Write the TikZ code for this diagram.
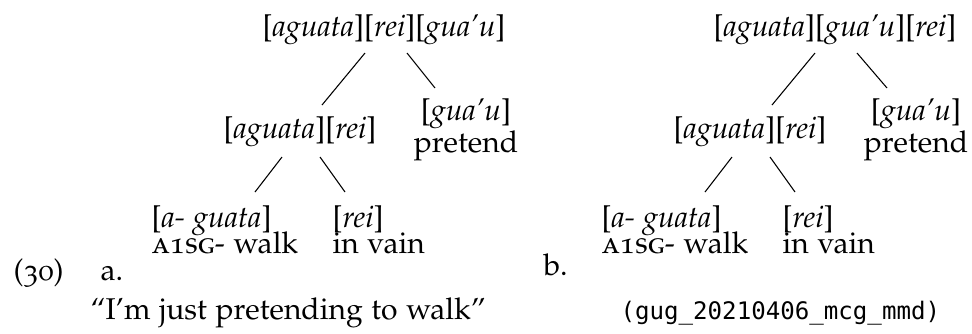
\documentclass[tikz,border=0pt]{standalone}
\usepackage[T1]{fontenc}
\usepackage[sc,osf]{mathpazo}
\usepackage{fontspec}
\usetikzlibrary{calc}
\newfontfamily\codefont{DejaVu Sans Mono}
\newcommand\palfont{\fontencoding{T1}\fontfamily{pplj}\fontsize{11.2}{13.6}\selectfont}
\newcommand\gword[1]{[\textit{#1}]}
\begin{document}
\begin{tikzpicture}[x=0.373pt, y=-0.373pt,
    every node/.style={font=\palfont, inner sep=0pt},
    lbl/.style={anchor=base west},
    word/.style={anchor=base},
    edge/.style={line width=0.4pt}]
    \useasboundingbox (0,0) rectangle (972,333);

    % Tree a
    \node[word] (topA) at (384,36) {\gword{aguata}\gword{rei}\gword{gua'u}};
    \node[word] (midA) at (300,138) {\gword{aguata}\gword{rei}};
    \node[word] (guaA) at (466,120) {\gword{gua'u}};
    \node[word] (guaAg) at (466,152) {pretend};
    \node[lbl] (walkA) at (151,227) {\gword{a- guata}};
    \node[lbl] (walkAg) at (151,253) {\textsc{a1sg}- walk};
    \node[lbl] (reiA) at (332,227) {\gword{rei}};
    \node[lbl] (reiAg) at (332,253) {in vain};

    \draw[edge] ($(topA.base)+(-19,17)$) -- ($(midA.base)+(22,-33)$);
    \draw[edge] ($(topA.base)+(23,17)$) -- ($(guaA.base)+(-31,-32)$);
    \draw[edge] ($(midA.base)+(-18,19)$) -- ($(walkA.base west)+(104,-35)$);
    \draw[edge] ($(midA.base)+(20,19)$) -- ($(reiA.base west)+(13,-35)$);

    % Tree b
    \node[word] (topB) at (835,36) {\gword{aguata}\gword{gua'u}\gword{rei}};
    \node[word] (midB) at (750,138) {\gword{aguata}\gword{rei}};
    \node[word] (guaB) at (916,120) {\gword{gua'u}};
    \node[word] (guaBg) at (916,152) {pretend};
    \node[lbl] (walkB) at (601,227) {\gword{a- guata}};
    \node[lbl] (walkBg) at (601,253) {\textsc{a1sg}- walk};
    \node[lbl] (reiB) at (782,227) {\gword{rei}};
    \node[lbl] (reiBg) at (782,253) {in vain};

    \draw[edge] ($(topB.base)+(-20,17)$) -- ($(midB.base)+(22,-33)$);
    \draw[edge] ($(topB.base)+(22,17)$) -- ($(guaB.base)+(-29,-32)$);
    \draw[edge] ($(midB.base)+(-18,19)$) -- ($(walkB.base west)+(104,-35)$);
    \draw[edge] ($(midB.base)+(20,19)$) -- ($(reiB.base west)+(13,-35)$);

    % Example number, letters, translation
    \node[lbl] (num) at (13,280) {(30)};
    \node[lbl] (la) at (100,280) {a.};
    \node[lbl] (lb) at (543,275) {b.};
    \node[lbl] (trans) at (90,319) {``I'm just pretending to walk''};
    \node[lbl, font=\codefont\fontsize{9}{11}\selectfont] (src) at (620,319) {(gug\_20210406\_mcg\_mmd)};
\end{tikzpicture}
\end{document}
